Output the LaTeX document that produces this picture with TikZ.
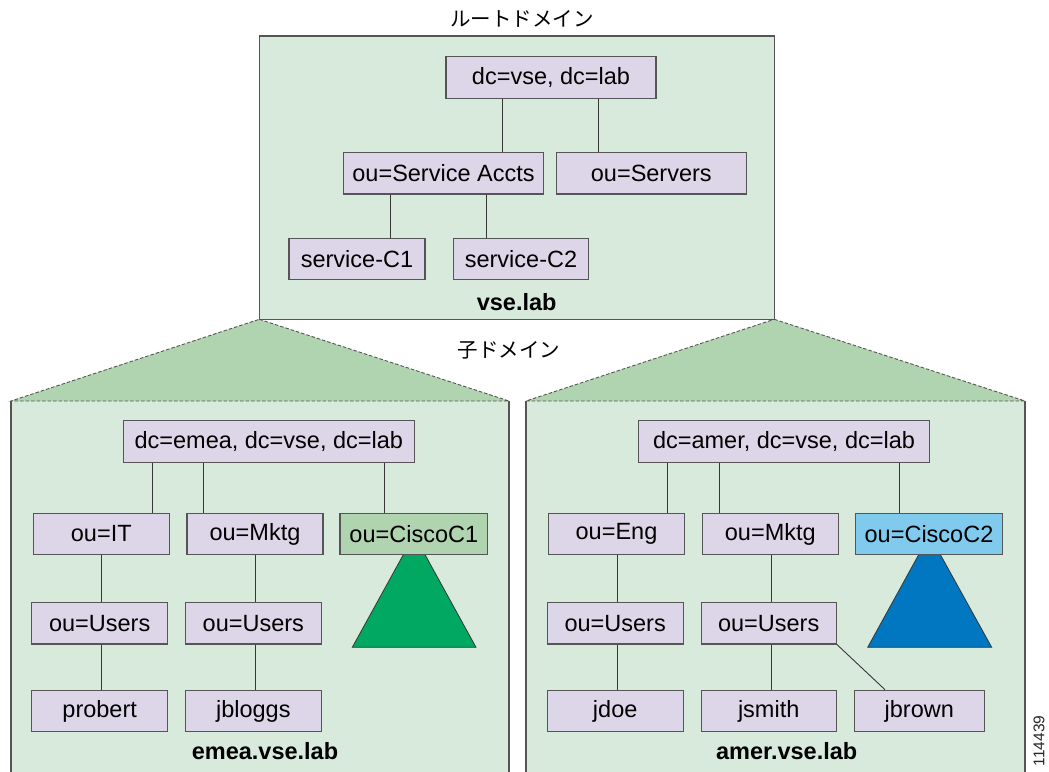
\documentclass[tikz,border=0pt]{standalone}
\usepackage{fontspec}
\setmainfont{Liberation Sans}
\newfontfamily\jpfont{Noto Sans CJK JP}
\definecolor{domfill}{RGB}{215,234,220}
\definecolor{entfill}{RGB}{221,214,232}
\definecolor{edgegray}{RGB}{85,85,85}
\definecolor{linkgray}{RGB}{55,55,55}
\definecolor{trustgreen}{RGB}{176,211,176}
\definecolor{ciscoonefill}{RGB}{176,211,176}
\definecolor{ciscotwofill}{RGB}{128,202,238}
\definecolor{subgreen}{RGB}{0,168,98}
\definecolor{subblue}{RGB}{0,119,192}
\tikzset{
  ent/.style={draw=edgegray, line width=1.1pt, fill=entfill, minimum height=41.5pt,
    inner sep=0pt, font=\fontsize{23.5}{28}\selectfont},
  conn/.style={draw=linkgray, line width=0.9pt},
  dombg/.style={fill=domfill},
  domedge/.style={draw=edgegray, line width=1.1pt},
  trust/.style={fill=trustgreen, draw=edgegray, line width=0.9pt, dash pattern=on 3.5pt off 2pt},
  domlabel/.style={font=\fontsize{23.5}{28}\selectfont\bfseries, inner sep=0pt},
  jplabel/.style={font=\fontsize{20.5}{24}\selectfont\jpfont, inner sep=0pt},
  subtree/.style={draw=linkgray, line width=0.8pt}
}
\begin{document}
\begin{tikzpicture}[x=1pt,y=-1pt]
\clip (0,0) rectangle (1049,771);
\fill[white] (0,0) rectangle (1049,771);

% ---------- child domain backgrounds and trust wedges ----------
\fill[dombg] (11,401) rectangle (509,790);
\fill[dombg] (526,401) rectangle (1025,790);
\draw[domedge] (11,401) -- (11,790);
\draw[domedge] (509,401) -- (509,790);
\draw[domedge] (526,401) -- (526,790);
\draw[domedge] (1025,401) -- (1025,790);
\filldraw[trust] (259.3,319.3) -- (509,401) -- (11,401) -- cycle;
\filldraw[trust] (774.3,319.3) -- (1025,401) -- (526,401) -- cycle;

% ---------- root domain ----------
\filldraw[dombg, domedge] (259.3,36) rectangle (774.3,319.3);
\node[jplabel] (roottitle) at (522,18.5) {ルートドメイン};
\node[jplabel] (childtitle) at (509,350) {子ドメイン};

\node[ent, minimum width=210pt]   (rdc)   at (551,77.3)   {dc=vse, dc=lab};
\node[ent, minimum width=200.4pt] (racct) at (443.5,173.2) {ou=Service Accts};
\node[ent, minimum width=190pt]   (rsrv)  at (651.3,173.2) {ou=Servers};
\node[ent, minimum width=136pt]   (rc1)   at (357,258.8)   {service-C1};
\node[ent, minimum width=135.4pt] (rc2)   at (521,258.8)   {service-C2};
\node[domlabel] (rlabel) at (516.7,301.7) {vse.lab};

\coordinate (ra) at (502.3,0);
\coordinate (rb) at (598.3,0);
\coordinate (rc) at (390.3,0);
\coordinate (rd) at (486,0);
\draw[conn] (rdc.south -| ra) -- (racct.north -| ra);
\draw[conn] (rdc.south -| rb) -- (rsrv.north -| rb);
\draw[conn] (racct.south -| rc) -- (rc1.north -| rc);
\draw[conn] (racct.south -| rd) -- (rc2.north -| rd);

% ---------- emea.vse.lab ----------
\fill[subgreen] (414.2,535) -- (476,647.3) -- (352.3,647.3) -- cycle;
\draw[subtree] (414.2,535) -- (476,647.3) -- (352.3,647.3) -- cycle;
\node[ent, minimum width=291pt]   (edc)   at (268.8,441.3) {dc=emea, dc=vse, dc=lab};
\node[ent, minimum width=136pt]   (eit)   at (101.3,534)   {ou=IT};
\node[ent, minimum width=136pt]   (emk)   at (255,534)     {ou=Mktg};
\node[ent, minimum width=147.7pt, fill=ciscoonefill] (ecis) at (413.8,534) {ou=CiscoC1};
\node[ent, minimum width=136pt]   (eusa)  at (99.7,623.2)  {ou=Users};
\node[ent, minimum width=136pt]   (eusb)  at (253.3,623.2) {ou=Users};
\node[ent, minimum width=136pt]   (eprob) at (99.7,711)    {probert};
\node[ent, minimum width=136pt]   (ejb)   at (253.3,711)   {jbloggs};
\node[domlabel] (elabel) at (265,751) {emea.vse.lab};

\coordinate (ea) at (152.3,0);
\coordinate (eb) at (203.7,0);
\coordinate (ec) at (384,0);
\coordinate (ed) at (101.7,0);
\coordinate (ee) at (255.7,0);
\draw[conn] (edc.south -| ea) -- (eit.north -| ea);
\draw[conn] (edc.south -| eb) -- (emk.north -| eb);
\draw[conn] (edc.south -| ec) -- (ecis.north -| ec);
\draw[conn] (eit.south -| ed) -- (eusa.north -| ed);
\draw[conn] (eusa.south -| ed) -- (eprob.north -| ed);
\draw[conn] (emk.south -| ee) -- (eusb.north -| ee);
\draw[conn] (eusb.south -| ee) -- (ejb.north -| ee);

% ---------- amer.vse.lab ----------
\fill[subblue] (929.5,535) -- (991.7,647.3) -- (867.7,647.3) -- cycle;
\draw[subtree] (929.5,535) -- (991.7,647.3) -- (867.7,647.3) -- cycle;
\node[ent, minimum width=290.6pt] (adc)   at (784,441.3)   {dc=amer, dc=vse, dc=lab};
\node[ent, minimum width=135.6pt] (aeng)  at (616.5,534)   {ou=Eng};
\node[ent, minimum width=136pt]   (amk)   at (770.3,534)   {ou=Mktg};
\node[ent, minimum width=147.4pt, fill=ciscotwofill] (acis) at (929,534) {ou=CiscoC2};
\node[ent, minimum width=135.7pt] (ausa)  at (615.2,623.2) {ou=Users};
\node[ent, minimum width=135.3pt] (ausb)  at (768.7,623.2) {ou=Users};
\node[ent, minimum width=135.7pt] (ajd)   at (615.2,711)   {jdoe};
\node[ent, minimum width=135.3pt] (ajs)   at (768.7,711)   {jsmith};
\node[ent, minimum width=130pt]   (ajb)   at (919.3,711)   {jbrown};
\node[domlabel] (alabel) at (786.7,751) {amer.vse.lab};

\coordinate (aa) at (667.3,0);
\coordinate (ab) at (719.3,0);
\coordinate (ac) at (899.3,0);
\coordinate (ad) at (617.3,0);
\coordinate (ae) at (771.3,0);
\coordinate (af) at (885,0);
\draw[conn] (adc.south -| aa) -- (aeng.north -| aa);
\draw[conn] (adc.south -| ab) -- (amk.north -| ab);
\draw[conn] (adc.south -| ac) -- (acis.north -| ac);
\draw[conn] (aeng.south -| ad) -- (ausa.north -| ad);
\draw[conn] (ausa.south -| ad) -- (ajd.north -| ad);
\draw[conn] (amk.south -| ae) -- (ausb.north -| ae);
\draw[conn] (ausb.south -| ae) -- (ajs.north -| ae);
\draw[conn] (ausb.south east) -- (ajb.north -| af);

% figure number
\node[rotate=90, font=\fontsize{15.5}{18}\selectfont, text=black!85, inner sep=0pt] (fignum) at (1039,741) {114439};
\end{tikzpicture}
\end{document}
